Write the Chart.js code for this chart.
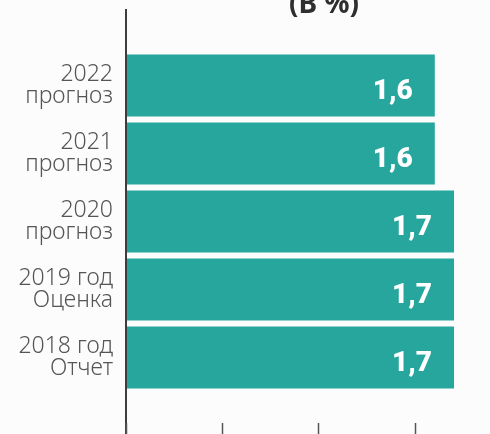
<!DOCTYPE html>
<html>
<head>
<meta charset="utf-8">
<script src="https://cdn.jsdelivr.net/npm/chart.js@4"></script>
<style>
  html, body { margin: 0; padding: 0; background: #fcfcfc; overflow: hidden; }
  #wrap { position: relative; width: 490px; height: 434px; }
</style>
</head>
<body>
<div id="wrap"><canvas id="growthChart" width="490" height="434"></canvas></div>
<script>
const categories = [
  ['2022', 'прогноз'],
  ['2021', 'прогноз'],
  ['2020', 'прогноз'],
  ['2019 год', 'Оценка'],
  ['2018 год', 'Отчет']
];
const growthValues = [1.6, 1.6, 1.7, 1.7, 1.7];
const xTickValues = [0, 0.5, 1, 1.5];
const titleText = '(В %)';

// axis line, bottom tick marks, title and value labels
const decorPlugin = {
  id: 'decor',
  afterDraw(chart) {
    const ctx = chart.ctx;
    const x = chart.scales.x;
    ctx.save();

    // vertical axis line
    ctx.strokeStyle = '#3d3d3d';
    ctx.lineWidth = 2;
    ctx.beginPath();
    ctx.moveTo(x.getPixelForValue(0) - 1, 9);
    ctx.lineTo(x.getPixelForValue(0) - 1, 434);
    ctx.stroke();

    // tick marks at bottom
    ctx.strokeStyle = '#555';
    ctx.lineWidth = 1.5;
    xTickValues.forEach(v => {
      const px = Math.round(x.getPixelForValue(v)) - 0.5;
      ctx.beginPath();
      ctx.moveTo(px, 423);
      ctx.lineTo(px, 434);
      ctx.stroke();
    });

    // title (cut off at top)
    ctx.fillStyle = '#2f2f2f';
    ctx.font = 'bold 28px "Noto Sans", sans-serif';
    ctx.textAlign = 'center';
    ctx.textBaseline = 'alphabetic';
    ctx.fillText(titleText, 324, 12.5);

    // value labels
    ctx.fillStyle = '#ffffff';
    ctx.font = '900 28px Roboto, sans-serif';
    ctx.textAlign = 'right';
    chart.getDatasetMeta(0).data.forEach((bar, i) => {
      ctx.fillText(growthValues[i].toFixed(1).replace('.', ','), bar.x - 22, bar.y + 13);
    });
    ctx.restore();
  }
};

new Chart(document.getElementById('growthChart').getContext('2d'), {
  type: 'bar',
  data: {
    labels: categories,
    datasets: [{
      data: growthValues,
      backgroundColor: '#26a69d',
      borderWidth: 0,
      barPercentage: 0.912,
      categoryPercentage: 1
    }]
  },
  options: {
    indexAxis: 'y',
    responsive: false,
    animation: false,
    layout: { padding: { top: 51.5, bottom: 42.5, left: 0, right: 0 } },
    plugins: {
      legend: { display: false },
      tooltip: { enabled: false }
    },
    scales: {
      x: {
        display: false,
        min: 0,
        max: 1.887
      },
      y: {
        grid: { display: false, drawTicks: false },
        border: { display: false },
        afterFit: scale => { scale.width = 127; },
        ticks: {
          padding: 14,
          color: '#555555',
          font: { family: '"Noto Sans", sans-serif', size: 23, weight: 300, lineHeight: 0.94 }
        }
      }
    }
  },
  plugins: [decorPlugin]
});
</script>
</body>
</html>
